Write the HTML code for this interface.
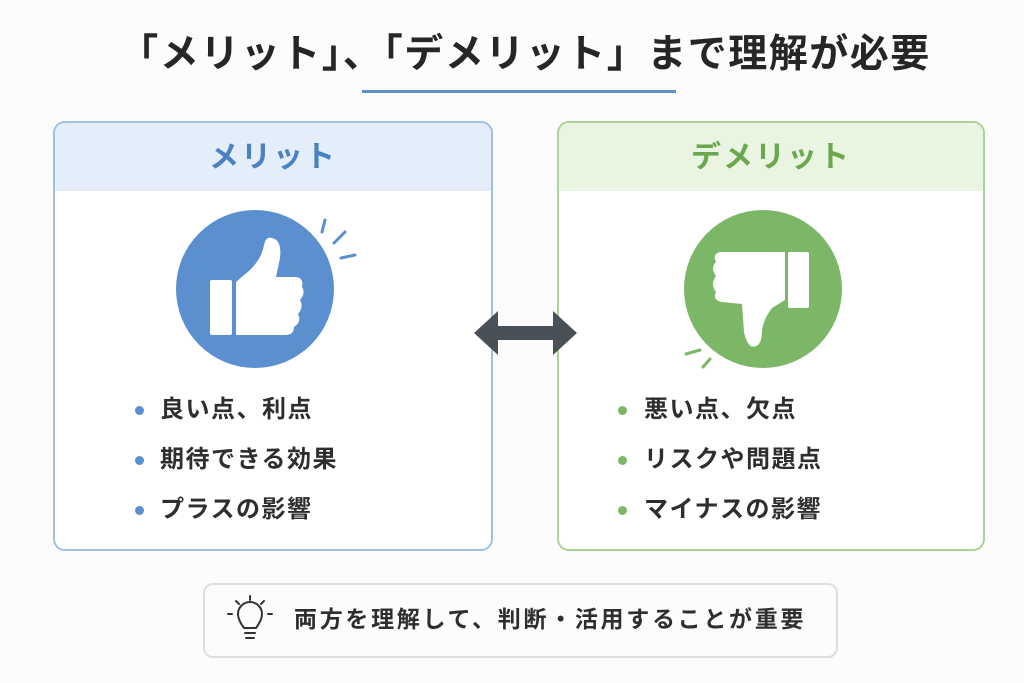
<!DOCTYPE html>
<html><head><meta charset="utf-8"><style>
body{margin:0;width:1024px;height:683px;background:#fcfcfc;position:relative;overflow:hidden;font-family:"Liberation Sans","Noto Sans CJK JP",sans-serif;color:#2e2e2e}
.a{position:absolute}
.title{left:0;width:1050px;top:30px;text-align:center;font-size:39px;font-weight:bold;color:#262626;letter-spacing:1.5px;line-height:50px}
.card{border-radius:12px;box-sizing:border-box;overflow:hidden;background:#fff}
.hd{height:68px;text-align:center;font-size:30px;font-weight:bold;line-height:70px;letter-spacing:2px}
.li{font-size:24px;font-weight:bold;line-height:30px;color:#2e2e2e;letter-spacing:1.5px}
.dot{width:9px;height:9px;border-radius:50%}
</style></head><body>
<div class="a title">「メリット」、「デメリット」まで理解が必要</div>
<div class="a" style="left:362px;top:90px;width:314px;height:3px;background:#5b8fcf"></div>

<div class="a card" style="left:53px;top:121px;width:440px;height:430px;border:2px solid #9fc0e6">
<div class="hd" style="background:#e3eefa;color:#4a80c4">メリット</div></div>
<div class="a card" style="left:557px;top:121px;width:428px;height:430px;border:2px solid #acd295">
<div class="hd" style="background:#e9f4e1;color:#6aa84f">デメリット</div></div>

<svg class="a" style="left:0;top:0" width="1024" height="683">
<circle cx="255" cy="289" r="79" fill="#5b8fcf"/>
<rect x="210" y="280" width="22" height="55" rx="2" fill="#fff"/>
<path d="M236 282 L250 270 Q262 258 264 245 Q266 236 272 238 Q282 240 280 258 L276 277 L296 277 Q304 278 302 287 Q306 293 300 300 Q304 307 298 314 Q302 322 294 327 Q294 335 285 335 L236 335 Z" fill="#fff"/>
<g stroke="#5b8fcf" stroke-width="3" stroke-linecap="round">
<line x1="325" y1="220" x2="322" y2="232"/><line x1="345" y1="232" x2="334" y2="243"/><line x1="355" y1="255" x2="341" y2="258"/></g>
<circle cx="763" cy="289" r="79" fill="#7cb667"/>
<rect x="788" y="252" width="21" height="56" rx="2" fill="#fff"/>
<path d="M785 252 L720 252 Q712 254 716 262 Q710 268 716 276 Q710 284 716 292 Q712 300 722 302 L742 304 L744 332 Q748 350 756 346 Q762 344 762 330 Q764 318 772 308 L785 300 Z" fill="#fff"/>
<g stroke="#7cb667" stroke-width="3" stroke-linecap="round">
<line x1="686" y1="354" x2="700" y2="350"/><line x1="703" y1="367" x2="710" y2="359"/></g>
<path d="M474 333 L498 311 L498 326 L553 326 L553 311 L577 333 L553 355 L553 340 L498 340 L498 355 Z" fill="#4a5058"/>
<g stroke="#333" stroke-width="2" fill="none" stroke-linecap="round">
<path d="M244 628 Q238 620 238 614 A12 12 0 1 1 262 614 Q262 620 256 628 Z"/>
<line x1="245" y1="633" x2="255" y2="633"/><line x1="246" y1="638" x2="254" y2="638"/>
<line x1="250" y1="596" x2="250" y2="600"/><line x1="236" y1="601" x2="239" y2="604"/><line x1="264" y1="601" x2="261" y2="604"/>
<line x1="228" y1="614" x2="232" y2="614"/><line x1="268" y1="614" x2="272" y2="614"/></g>
</svg>

<div class="a dot" style="left:135px;top:406px;background:#5b8fcf"></div>
<div class="a li" style="left:160px;top:395px">良い点、利点</div>
<div class="a dot" style="left:135px;top:456px;background:#5b8fcf"></div>
<div class="a li" style="left:160px;top:445px">期待できる効果</div>
<div class="a dot" style="left:135px;top:506px;background:#5b8fcf"></div>
<div class="a li" style="left:160px;top:495px">プラスの影響</div>

<div class="a dot" style="left:618px;top:406px;background:#7cb667"></div>
<div class="a li" style="left:644px;top:395px">悪い点、欠点</div>
<div class="a dot" style="left:618px;top:456px;background:#7cb667"></div>
<div class="a li" style="left:644px;top:445px">リスクや問題点</div>
<div class="a dot" style="left:618px;top:506px;background:#7cb667"></div>
<div class="a li" style="left:644px;top:495px">マイナスの影響</div>

<div class="a" style="left:203px;top:583px;width:635px;height:75px;box-sizing:border-box;border:2px solid #dedede;border-radius:10px;background:transparent"></div>
<div class="a li" style="left:294px;top:604px;font-size:23px;letter-spacing:2.7px">両方を理解して、判断・活用することが重要</div>
</body></html>
